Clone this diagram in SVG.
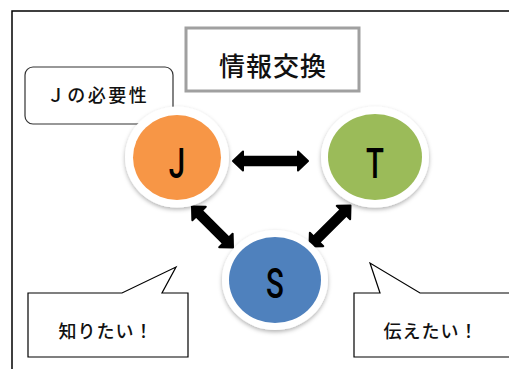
<svg xmlns="http://www.w3.org/2000/svg" width="509" height="369" viewBox="0 0 509 369">
<style>
.jp{font-family:"Noto Sans CJK JP","Noto Sans CJK SC",sans-serif;fill:#111;text-anchor:middle;font-weight:500}
.let{font-family:Roboto,"Liberation Sans",sans-serif;font-size:42px;font-weight:500;fill:#000;text-anchor:middle}
.ring{fill:#fff;filter:url(#sh)}
.arr{fill:#000;stroke:#000;stroke-width:2;stroke-linejoin:round}
.bub{fill:#fff;stroke:#000;stroke-width:1.2}
</style>
<defs>
<filter id="sh" x="-20%" y="-20%" width="140%" height="150%">
<feDropShadow dx="0" dy="2" stdDeviation="2" flood-color="#000" flood-opacity="0.3"/>
</filter>
</defs>
<rect width="509" height="369" fill="#fff"/>
<path d="M12 369 V11 H509" fill="none" stroke="#000" stroke-width="1.5"/>
<g id="title">
<rect x="186" y="28" width="173" height="63" fill="#fff" stroke="#a0a0a0" stroke-width="3"/>
<text class="jp" x="273" y="76" font-size="26" letter-spacing="1">情報交換</text>
</g>
<g id="jneed">
<rect x="25" y="67" width="148" height="57" rx="8" fill="#fff" stroke="#333" stroke-width="1.2"/>
<text class="jp" x="98" y="102" font-size="18" letter-spacing="2.5">Ｊの必要性</text>
</g>
<g id="connectors">
<path class="arr" transform="translate(270.5,161)" d="M-37.5 0 L-27.5 -9.5 L-27.5 -4.2 L27.5 -4.2 L27.5 -9.5 L37.5 0 L27.5 9.5 L27.5 4.2 L-27.5 4.2 L-27.5 9.5 Z"/>
<path class="arr" transform="translate(212.5,227) rotate(45)" d="M-29 0 L-19 -9.5 L-19 -4.2 L19 -4.2 L19 -9.5 L29 0 L19 9.5 L19 4.2 L-19 4.2 L-19 9.5 Z"/>
<path class="arr" transform="translate(330,226) rotate(135)" d="M-29 0 L-19 -9.5 L-19 -4.2 L19 -4.2 L19 -9.5 L29 0 L19 9.5 L19 4.2 L-19 4.2 L-19 9.5 Z"/>
</g>
<g id="J">
<ellipse class="ring" cx="177" cy="157" rx="52" ry="50.5"/>
<ellipse cx="177" cy="157.5" rx="44" ry="42.5" fill="#F79646"/>
<text class="let" transform="translate(177,178) scale(0.7,1)">J</text>
</g>
<g id="T">
<ellipse class="ring" cx="375" cy="157" rx="54" ry="50.5"/>
<ellipse cx="375" cy="157" rx="47" ry="43" fill="#9BBB59"/>
<text class="let" transform="translate(375,178) scale(0.7,1)">T</text>
</g>
<g id="S">
<ellipse class="ring" cx="275" cy="280" rx="53" ry="50"/>
<ellipse cx="275" cy="280" rx="46" ry="43" fill="#4F81BD"/>
<text class="let" transform="translate(275,298) scale(0.7,1)">S</text>
</g>
<g id="want-know">
<path class="bub" d="M28 293 H122 L176 267 L162 293 H188 V357 H28 Z"/>
<text class="jp" x="106" y="338" font-size="18" letter-spacing="1">知りたい！</text>
</g>
<g id="want-tell">
<path class="bub" d="M354 293 H380 L370 263 L420 293 H515 V357 H354 Z"/>
<text class="jp" x="431" y="338" font-size="18" letter-spacing="1">伝えたい！</text>
</g>
</svg>
